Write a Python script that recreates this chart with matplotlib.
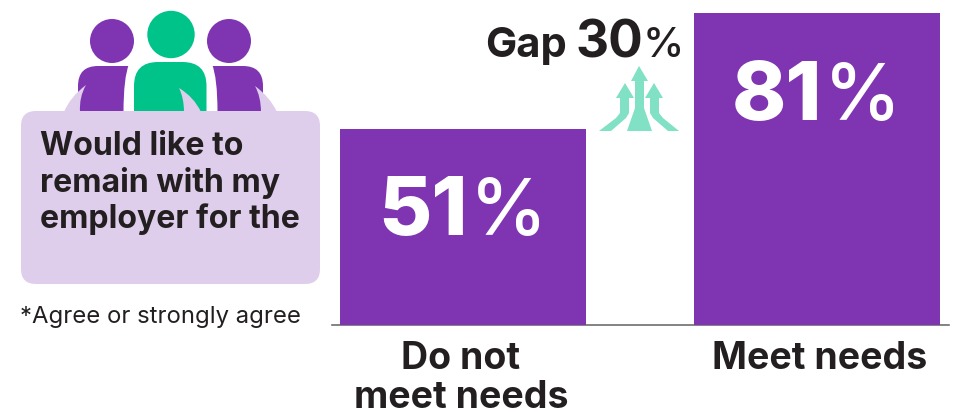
import matplotlib
matplotlib.use('Agg')
import matplotlib.pyplot as plt
from matplotlib.patches import Circle, FancyBboxPatch, Polygon, PathPatch
from matplotlib.path import Path

groups = ['Do not\nmeet needs', 'Meet needs']
shares = [51, 81]
gap = 30
note = '*Agree or strongly agree'
statement = 'Would like to\nremain with my\nemployer for the'

PURPLE = '#7F35B2'
GREEN = '#00C389'
LILAC = '#DFCEEB'
MINT = '#80E1C4'
INK = '#231F20'

W, H = 957, 412
plt.rcParams['font.family'] = ['Inter', 'DejaVu Sans']

fig = plt.figure(figsize=(W / 100, H / 100), dpi=100)

# overlay in pixel units for the icon, callout and text
bg = fig.add_axes([0, 0, 1, 1])
bg.set_xlim(0, W)
bg.set_ylim(H, 0)
bg.axis('off')

ax = fig.add_axes([340 / W, (H - 325) / H, 600 / W, 312 / H])
ax.set_xlim(-0.3475, 1.3475)
ax.set_ylim(0, 81)
ax.patch.set_alpha(0)
ax.bar(range(len(shares)), shares, width=0.695, color=PURPLE, zorder=2)
ax.set_xticks([])
ax.set_yticks([])
for s in ['top', 'left', 'right', 'bottom']:
    ax.spines[s].set_visible(False)
bg.plot([332, 949], [325, 325], color='#6E6E6E', lw=1.2)

# value labels: digits end just left of the percent sign
for i, v in enumerate(shares):
    y = v - 27.7
    ax.annotate(str(v), (i, y), xytext=(3.5, 0), textcoords='offset points',
                ha='right', va='baseline', color='white',
                fontsize=59, fontweight=800)
    ax.annotate('%', (i, y), xytext=(5, 0), textcoords='offset points',
                ha='left', va='baseline', color='white', fontsize=56,
                fontweight='medium')

label_kw = dict(ha='center', va='baseline', fontsize=27, fontweight='bold', color=INK)
bg.text(461, 369, groups[0].split('\n')[0], **label_kw)
bg.text(461, 408, groups[0].split('\n')[1], **label_kw)
bg.text(820, 369, groups[1], **label_kw)

# gap label and arrows
bg.text(485, 57, 'Gap', ha='left', va='baseline', fontsize=30,
        fontweight='bold', color=INK)
bg.text(576, 57, str(gap), ha='left', va='baseline', fontsize=37,
        fontweight='bold', color=INK)
bg.text(684, 57, '%', ha='right', va='baseline', fontsize=30,
        fontweight='medium', color=INK)

arrow_outlines = [
    [(639, 66), (648, 81), (644, 81), (644, 108), (652, 131), (627, 131),
     (635, 108), (635, 81), (631, 81)],
    [(625, 83), (634, 98), (629, 98), (629, 113), (626, 118), (611, 131),
     (599, 131), (616, 118), (620, 113), (620, 98), (616, 98)],
    [(654, 83), (663, 98), (659, 98), (659, 113), (663, 118), (679, 131),
     (668, 131), (653, 118), (650, 113), (650, 98), (645, 98)],
]
for pts in arrow_outlines:
    bg.add_patch(Polygon(pts, closed=True, fc=MINT, ec='none'))

# people icon
bg.add_patch(Circle((112, 41), 22, fc=PURPLE, ec='none'))
bg.add_patch(Circle((229, 41), 22, fc=PURPLE, ec='none'))
bg.add_patch(Circle((171, 34.5), 23.7, fc=GREEN, ec='none'))


def body(x0, x1, top, bottom, r_left, r_right, color):
    verts = [(x0, bottom), (x0, top + r_left), (x0, top), (x0 + r_left, top),
             (x1 - r_right, top), (x1, top), (x1, top + r_right), (x1, bottom), (x0, bottom)]
    codes = [Path.MOVETO, Path.LINETO, Path.CURVE3, Path.CURVE3, Path.LINETO,
             Path.CURVE3, Path.CURVE3, Path.LINETO, Path.CLOSEPOLY]
    return PathPatch(Path(verts, codes), fc=color, ec='none')


bg.add_patch(body(78, 130, 66, 112, 20, 0, PURPLE))
bg.add_patch(body(211, 263, 66, 112, 0, 20, PURPLE))

# white gaps carved between the side figures and the middle one
for xa, xb, xc in [(129, 123.5, 134), (212, 217.5, 207)]:
    verts = [(xa, 64), (xb, 78), (xb, 112), (xc, 112), (xc, 64), (xa, 64)]
    codes = [Path.MOVETO, Path.CURVE3, Path.CURVE3, Path.LINETO, Path.LINETO, Path.CLOSEPOLY]
    bg.add_patch(PathPatch(Path(verts, codes), fc='white', ec='none'))

bg.add_patch(body(134, 206.5, 62, 112, 24, 24, GREEN))

# callout with three speech tails
bg.add_patch(FancyBboxPatch((21, 111), 299, 173, boxstyle='round,pad=0,rounding_size=15',
                            fc=LILAC, ec='none'))
tails = [
    [(64, 112), (70, 97), (86, 85), (79, 97), (80, 112)],
    [(201, 112), (194, 97), (179, 88), (184, 98), (184, 112)],
    [(277, 112), (270, 97), (255, 86), (261, 97), (261, 112)],
]
tail_codes = [Path.MOVETO, Path.CURVE3, Path.CURVE3, Path.CURVE3, Path.CURVE3]
for pts in tails:
    bg.add_patch(PathPatch(Path(pts, tail_codes), fc=LILAC, ec='none'))

for line, y in zip(statement.split('\n'), [155, 192, 228]):
    bg.text(40, y, line, ha='left', va='baseline', fontsize=23.1,
            fontweight='bold', color=INK)
bg.text(20, 323, note, ha='left', va='baseline', fontsize=17.2, color=INK)

fig.savefig('out.png', dpi=100)
